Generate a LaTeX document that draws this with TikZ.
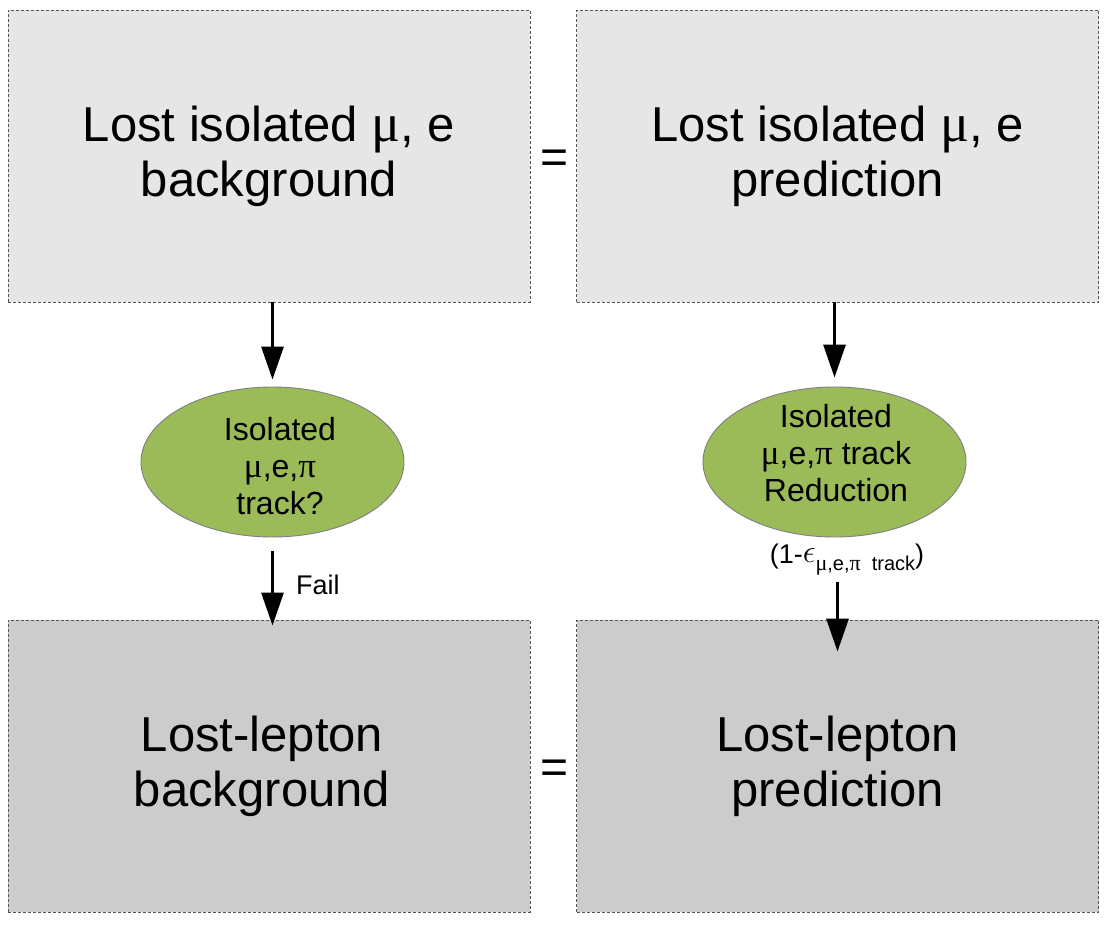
\documentclass[tikz,border=0pt]{standalone}
\usepackage{fontspec}
\setmainfont{Liberation Sans}
\newfontfamily\grk{Liberation Serif}
\usetikzlibrary{arrows.meta,shapes.geometric}
\definecolor{boxA}{HTML}{E6E6E6}
\definecolor{boxB}{HTML}{CCCCCC}
\definecolor{ellg}{HTML}{9BBB59}
\definecolor{edgec}{HTML}{555555}
\definecolor{elledge}{HTML}{7F7F7F}
\begin{document}
\begin{tikzpicture}[x=1pt,y=-1pt,
  bigbox/.style={draw=edgec, line width=0.9pt, dash pattern=on 3pt off 2pt,
    minimum width=522pt, minimum height=292pt, inner sep=0pt, align=center,
    font=\fontsize{49}{55}\selectfont},
  ell/.style={ellipse, draw=elledge, line width=0.9pt, fill=ellg,
    minimum width=263pt, minimum height=150pt, inner sep=0pt},
  etext/.style={align=center, font=\fontsize{32}{37}\selectfont, inner sep=0pt},
  small/.style={font=\fontsize{27}{30}\selectfont, inner sep=2pt},
  eqs/.style={font=\fontsize{48}{55}\selectfont, inner sep=0pt},
  arr/.style={line width=3pt, -{Triangle[width=22pt,length=33pt]}}
]
\useasboundingbox (0,0) rectangle (1115,925);
\fill[white] (0,0) rectangle (1115,925);

\node[bigbox, fill=boxA] (b1) at (269,156) {Lost isolated {\grk\fontsize{54}{55}\selectfont μ}, e\\background};
\node[bigbox, fill=boxA] (b2) at (837.5,156) {Lost isolated {\grk\fontsize{54}{55}\selectfont μ}, e\\prediction};
\node[bigbox, fill=boxB] (b3) at (269,766) {\hspace*{-14pt}Lost-lepton\\\hspace*{-14pt}background};
\node[bigbox, fill=boxB] (b4) at (837.5,766) {Lost-lepton\\prediction};

\node[eqs] (eq1) at (555,162) {=};
\node[eqs] (eq2) at (555,772) {=};

\node[ell] (e1) at (272.5,462) {};
\node[etext] (t1) at (280,466) {Isolated\\{\grk\fontsize{35}{37}\selectfont μ},e,{\grk\fontsize{35}{37}\selectfont π}\\track?};
\node[ell] (e2) at (834.5,462) {};
\node[etext] (t2) at (836,453) {Isolated\\{\grk\fontsize{35}{37}\selectfont μ},e,{\grk\fontsize{35}{37}\selectfont π} track\\Reduction};

\node[small, anchor=west] (fail) at (294,585) {Fail};
\node[small] (lab) at (847,560) {(1-\raisebox{1pt}{\scalebox{1.3}{$\epsilon$}}\raisebox{-7pt}{\fontsize{20}{22}\selectfont{\grk\fontsize{22}{22}\selectfont μ},e,{\grk\fontsize{22}{22}\selectfont π}\ \ track})};

\draw[arr, shorten >=7pt] (e1.north |- b1.south) -- (e1.north);
\draw[arr, shorten <=14pt, shorten >=-6pt] (e1.south) -- (e1.south |- b3.north);
\draw[arr, shorten >=9pt] (e2.north |- b2.south) -- (e2.north);
\draw[arr, shorten <=4pt, shorten >=-32pt] (lab.south -| b4.center) -- (b4.north);
\end{tikzpicture}
\end{document}
